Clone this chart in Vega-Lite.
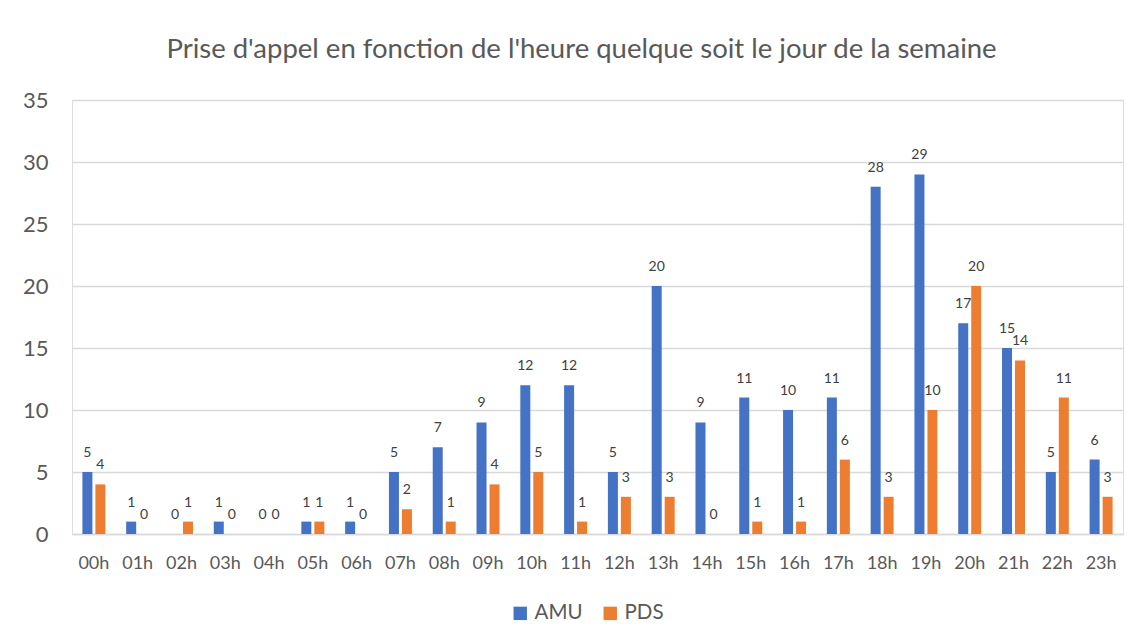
{
  "$schema": "https://vega.github.io/schema/vega-lite/v6.json",
  "width": 1051,
  "height": 434,
  "autosize": {"type": "none"},
  "padding": {"left": 72, "top": 100, "right": 16, "bottom": 110},
  "background": "white",
  "title": {
    "text": "Prise d'appel en fonction de l'heure quelque soit le jour de la semaine",
    "font": "Lato",
    "fontSize": 27.5,
    "fontWeight": "normal",
    "color": "#595959",
    "anchor": "middle",
    "frame": "group",
    "dx": -16,
    "baseline": "alphabetic",
    "offset": 4
  },
  "data": {
    "values": [
      {"heure": "00h", "serie": "AMU", "valeur": 5}, {"heure": "00h", "serie": "PDS", "valeur": 4},
      {"heure": "01h", "serie": "AMU", "valeur": 1}, {"heure": "01h", "serie": "PDS", "valeur": 0},
      {"heure": "02h", "serie": "AMU", "valeur": 0}, {"heure": "02h", "serie": "PDS", "valeur": 1},
      {"heure": "03h", "serie": "AMU", "valeur": 1}, {"heure": "03h", "serie": "PDS", "valeur": 0},
      {"heure": "04h", "serie": "AMU", "valeur": 0}, {"heure": "04h", "serie": "PDS", "valeur": 0},
      {"heure": "05h", "serie": "AMU", "valeur": 1}, {"heure": "05h", "serie": "PDS", "valeur": 1},
      {"heure": "06h", "serie": "AMU", "valeur": 1}, {"heure": "06h", "serie": "PDS", "valeur": 0},
      {"heure": "07h", "serie": "AMU", "valeur": 5}, {"heure": "07h", "serie": "PDS", "valeur": 2},
      {"heure": "08h", "serie": "AMU", "valeur": 7}, {"heure": "08h", "serie": "PDS", "valeur": 1},
      {"heure": "09h", "serie": "AMU", "valeur": 9}, {"heure": "09h", "serie": "PDS", "valeur": 4},
      {"heure": "10h", "serie": "AMU", "valeur": 12}, {"heure": "10h", "serie": "PDS", "valeur": 5},
      {"heure": "11h", "serie": "AMU", "valeur": 12}, {"heure": "11h", "serie": "PDS", "valeur": 1},
      {"heure": "12h", "serie": "AMU", "valeur": 5}, {"heure": "12h", "serie": "PDS", "valeur": 3},
      {"heure": "13h", "serie": "AMU", "valeur": 20}, {"heure": "13h", "serie": "PDS", "valeur": 3},
      {"heure": "14h", "serie": "AMU", "valeur": 9}, {"heure": "14h", "serie": "PDS", "valeur": 0},
      {"heure": "15h", "serie": "AMU", "valeur": 11}, {"heure": "15h", "serie": "PDS", "valeur": 1},
      {"heure": "16h", "serie": "AMU", "valeur": 10}, {"heure": "16h", "serie": "PDS", "valeur": 1},
      {"heure": "17h", "serie": "AMU", "valeur": 11}, {"heure": "17h", "serie": "PDS", "valeur": 6},
      {"heure": "18h", "serie": "AMU", "valeur": 28}, {"heure": "18h", "serie": "PDS", "valeur": 3},
      {"heure": "19h", "serie": "AMU", "valeur": 29}, {"heure": "19h", "serie": "PDS", "valeur": 10},
      {"heure": "20h", "serie": "AMU", "valeur": 17}, {"heure": "20h", "serie": "PDS", "valeur": 20},
      {"heure": "21h", "serie": "AMU", "valeur": 15}, {"heure": "21h", "serie": "PDS", "valeur": 14},
      {"heure": "22h", "serie": "AMU", "valeur": 5}, {"heure": "22h", "serie": "PDS", "valeur": 11},
      {"heure": "23h", "serie": "AMU", "valeur": 6}, {"heure": "23h", "serie": "PDS", "valeur": 3}
    ]
  },
  "encoding": {
    "x": {
      "field": "heure",
      "type": "nominal",
      "sort": null,
      "scale": {"paddingInner": 0.475, "paddingOuter": 0.2375},
      "axis": {
        "title": null,
        "labelAngle": 0,
        "labelFont": "Lato",
        "labelFontSize": 18,
        "labelColor": "#595959",
        "labelPadding": 20,
        "ticks": false,
        "grid": false,
        "domain": true,
        "domainColor": "#D9D9D9",
        "domainWidth": 1.5
      }
    },
    "xOffset": {
      "field": "serie",
      "type": "nominal",
      "scale": {"paddingInner": 0.23, "paddingOuter": 0}
    },
    "y": {
      "field": "valeur",
      "type": "quantitative",
      "scale": {"domain": [0, 35], "nice": false},
      "axis": {
        "title": null,
        "values": [0, 5, 10, 15, 20, 25, 30, 35],
        "labelFont": "Lato",
        "labelFontSize": 22,
        "labelColor": "#595959",
        "labelPadding": 24,
        "ticks": false,
        "domain": false,
        "grid": true,
        "gridColor": "#D9D9D9",
        "gridWidth": 1.5
      }
    },
    "color": {
      "field": "serie",
      "type": "nominal",
      "scale": {"domain": ["AMU", "PDS"], "range": ["#4472C4", "#ED7D31"]},
      "legend": {
        "title": null,
        "orient": "none",
        "direction": "horizontal",
        "legendX": 438,
        "legendY": 503,
        "padding": 0,
        "symbolType": "square",
        "symbolSize": 180,
        "symbolStrokeWidth": 0,
        "labelFont": "Lato",
        "labelFontSize": 20.5,
        "labelColor": "#595959",
        "labelOffset": 4,
        "columnPadding": 17
      }
    }
  },
  "layer": [
    {"mark": {"type": "bar"}},
    {
      "mark": {
        "type": "text",
        "font": "Lato",
        "fontSize": 14,
        "color": "#404040",
        "align": "center",
        "baseline": "alphabetic",
        "dy": -15
      },
      "encoding": {
        "text": {"field": "valeur", "type": "quantitative"},
        "color": {"value": "#404040"}
      }
    }
  ]
}
